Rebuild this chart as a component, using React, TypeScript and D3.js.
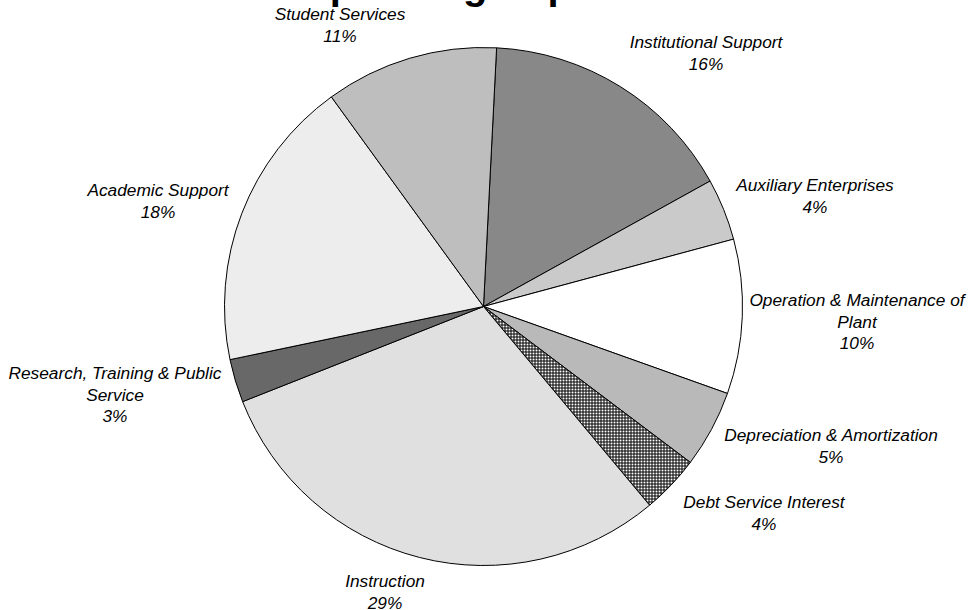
import React from "react";
import * as d3 from "d3";

// ---- data (clockwise from just right of 12 o'clock) ----
const categories = [
  "Institutional Support",
  "Auxiliary Enterprises",
  "Operation & Maintenance of Plant",
  "Depreciation & Amortization",
  "Debt Service Interest",
  "Instruction",
  "Research, Training & Public Service",
  "Academic Support",
  "Student Services",
];
const values = [16.15, 3.86, 9.64, 4.83, 3.64, 30.1, 2.7, 18.3, 10.8];
const percentLabels = ["16%", "4%", "10%", "5%", "4%", "29%", "3%", "18%", "11%"];
const labelLines = [
  ["Institutional Support"],
  ["Auxiliary Enterprises"],
  ["Operation & Maintenance of", "Plant"],
  ["Depreciation & Amortization"],
  ["Debt Service Interest"],
  ["Instruction"],
  ["Research, Training & Public", "Service"],
  ["Academic Support"],
  ["Student Services"],
];
const title = "Operating Expenses";

// ---- layout / style ----
const W = 971;
const H = 610;
const CX = 483.5;
const CY = 306.5;
const R = 259;
const START_DEG = 2.9;
const LINE_H = 21.5;
// label anchor: center x, first baseline y
const labelPos: [number, number][] = [
  [706, 48],
  [815, 191],
  [857, 306],
  [831, 441],
  [764, 508],
  [385, 587],
  [115, 379],
  [158, 196],
  [340, 20],
];
const patternIds = [
  "pInst",
  "pAux",
  "pOper",
  "pDepr",
  "pDebt",
  "pInstr",
  "pRes",
  "pAcad",
  "pStud",
];
const FONT = "'Liberation Sans', Arial, Helvetica, sans-serif";

function Dot2({ id, bg, a, b }: { id: string; bg: string; a?: string; b?: string }) {
  return (
    <pattern id={id} width={2} height={2} patternUnits="userSpaceOnUse">
      <rect x={0} y={0} width={2} height={2} fill={bg} shapeRendering="crispEdges" />
      {a && <rect x={0} y={0} width={1} height={1} fill={a} shapeRendering="crispEdges" />}
      {b && <rect x={1} y={1} width={1} height={1} fill={b} shapeRendering="crispEdges" />}
    </pattern>
  );
}

function Stripe({ id, c0, c1 }: { id: string; c0: string; c1: string }) {
  return (
    <pattern id={id} width={2} height={2} patternUnits="userSpaceOnUse">
      <rect x={0} y={0} width={1} height={2} fill={c0} shapeRendering="crispEdges" />
      <rect x={1} y={0} width={1} height={2} fill={c1} shapeRendering="crispEdges" />
    </pattern>
  );
}

export default function App() {
  const pie = d3
    .pie<number>()
    .sort(null)
    .value((d) => d)
    .startAngle((START_DEG * Math.PI) / 180)
    .endAngle((START_DEG * Math.PI) / 180 + 2 * Math.PI);
  const arcs = pie(values);
  const arcGen = d3.arc<d3.PieArcDatum<number>>().innerRadius(0).outerRadius(R);

  return (
    <svg
      width={W}
      height={H}
      viewBox={`0 0 ${W} ${H}`}
      style={{ position: "absolute", left: 0, top: 0, background: "#fff" }}
    >
      <defs>
        <Dot2 id="pInst" bg="#7a7a7a" a="#b0b0b0" />
        <Dot2 id="pAux" bg="#b8b8b8" a="#ffffff" />
        <Dot2 id="pOper" bg="#ffffff" />
        <Stripe id="pDepr" c0="#8c8c8c" c1="#e6e6e6" />
        <pattern id="pDebt" width={3} height={3} patternUnits="userSpaceOnUse">
          <rect x={0} y={0} width={3} height={3} fill="#ffffff" shapeRendering="crispEdges" />
          <rect x={0} y={0} width={3} height={1} fill="#000000" shapeRendering="crispEdges" />
          <rect x={0} y={0} width={1} height={3} fill="#000000" shapeRendering="crispEdges" />
        </pattern>
        <Dot2 id="pInstr" bg="#ffffff" a="#a0a0a0" b="#e0e0e0" />
        <Stripe id="pRes" c0="#303030" c1="#a0a0a0" />
        <Dot2 id="pAcad" bg="#ffffff" a="#b8b8b8" />
        <Dot2 id="pStud" bg="#a8a8a8" a="#ffffff" />
      </defs>
      <rect x={0} y={0} width={W} height={H} fill="#ffffff" />
      <text
        x={492}
        y={-1}
        textAnchor="middle"
        fontFamily={FONT}
        fontWeight="bold"
        fontSize={40}
        fill="#000"
      >
        {title}
      </text>
      <g transform={`translate(${CX},${CY})`}>
        {arcs.map((a, i) => (
          <path
            key={categories[i]}
            d={arcGen(a) || ""}
            fill={`url(#${patternIds[i]})`}
            stroke="#000"
            strokeWidth={1}
            strokeLinejoin="round"
          />
        ))}
      </g>
      {categories.map((c, i) => {
        const [x, y] = labelPos[i];
        const lines = [...labelLines[i], percentLabels[i]];
        return (
          <text
            key={c}
            x={x}
            y={y}
            textAnchor="middle"
            fontFamily={FONT}
            fontStyle="italic"
            fontSize={17.3}
            fill="#000"
          >
            {lines.map((ln, j) => (
              <tspan key={j} x={x} y={y + j * LINE_H}>
                {ln}
              </tspan>
            ))}
          </text>
        );
      })}
    </svg>
  );
}
